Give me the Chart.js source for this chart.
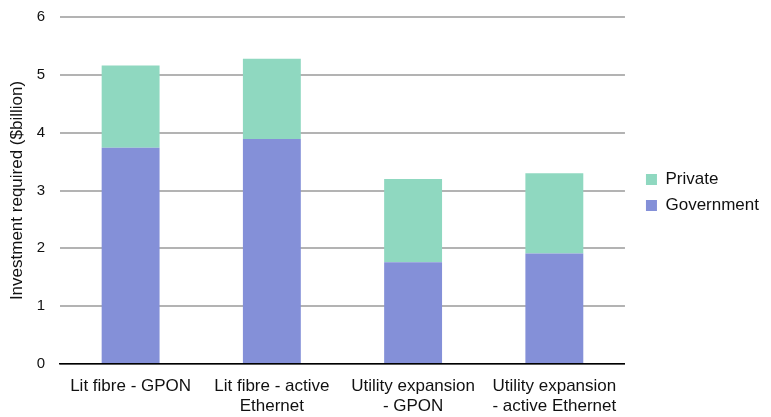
<!DOCTYPE html>
<html>
<head>
<meta charset="utf-8">
<script src="https://cdn.jsdelivr.net/npm/chart.js@4"></script>
<style>
  body { margin: 0; background: #fff; }
  #wrap { width: 771px; height: 417px; }
</style>
</head>
<body>
<div id="wrap"><canvas id="investChart" width="771" height="417"></canvas></div>
<script>
// data
var categories = [
  ["Lit fibre - GPON"],
  ["Lit fibre - active", "Ethernet"],
  ["Utility expansion", "- GPON"],
  ["Utility expansion", "- active Ethernet"]
];
var government = [3.74, 3.89, 1.76, 1.91];
var totals = [5.16, 5.28, 3.20, 3.30];
var privateInv = [];
for (var i in totals) {
  privateInv.push(+(totals[i] - government[i]).toFixed(2));
}
var yTicks = [0, 1, 2, 3, 4, 5, 6];

Chart.defaults.font.family = "'Liberation Sans', Arial, sans-serif";
Chart.defaults.font.size = 15;
Chart.defaults.color = "#111";

// move the legend next to the plot and centre it on the plot height
var legendPlace = {
  id: "legendPlace",
  afterLayout: function (chart) {
    var lg = chart.legend, ca = chart.chartArea;
    var dx = ca.right + 12 - lg.left;
    var dy = (ca.top + ca.bottom) / 2 + 2 - (lg.top + lg.bottom) / 2;
    lg.left += dx; lg.right += dx;
    lg.top += dy; lg.bottom += dy;
  },
};

var ctx = document.getElementById("investChart");

var myBarChart = new Chart(ctx, {
  type: "bar",
  data: {
    labels: categories,
    datasets: [
      {
        label: "Government",
        data: government,
        backgroundColor: "#8490d8",
        borderWidth: 0,
      },
      {
        label: "Private",
        data: privateInv,
        backgroundColor: "#8fd8c0",
        borderWidth: 0,
      },
    ],
  },
  plugins: [legendPlace],
  options: {
    responsive: false,
    animation: false,
    layout: { padding: { top: 17, right: 14, left: 7, bottom: 0 } },
    datasets: { bar: { barPercentage: 0.41, categoryPercentage: 1 } },
    plugins: {
      tooltip: { enabled: false },
      legend: {
        position: "right",
        reverse: true,
        labels: {
          boxWidth: 11,
          boxHeight: 11,
          padding: 9,
          color: "#111",
          font: { size: 17 },
        },
      },
    },
    scales: {
      x: {
        stacked: true,
        grid: { display: false },
        border: { color: "#000", width: 1.5 },
        ticks: { padding: 4, color: "#111", maxRotation: 0, font: { size: 17, lineHeight: 1.18 } },
        afterFit: function (axis) { axis.height = 53; },
      },
      y: {
        stacked: true,
        min: 0,
        max: 6,
        afterBuildTicks: function (axis) {
          axis.ticks = yTicks.map(function (v) { return { value: v }; });
        },
        afterFit: function (axis) {
          axis.width = 53;
          axis.paddingTop = 0;
          axis.paddingBottom = 0;
        },
        grid: { color: "#b3b3b3", lineWidth: 2, drawTicks: false },
        border: { display: false },
        ticks: { padding: 15, color: "#111", font: { size: 15 } },
        title: {
          display: true,
          text: "Investment required ($billion)",
          color: "#111",
          font: { size: 17 },
          padding: { top: 0, bottom: 3 },
        },
      },
    },
  },
});
</script>
</body>
</html>
